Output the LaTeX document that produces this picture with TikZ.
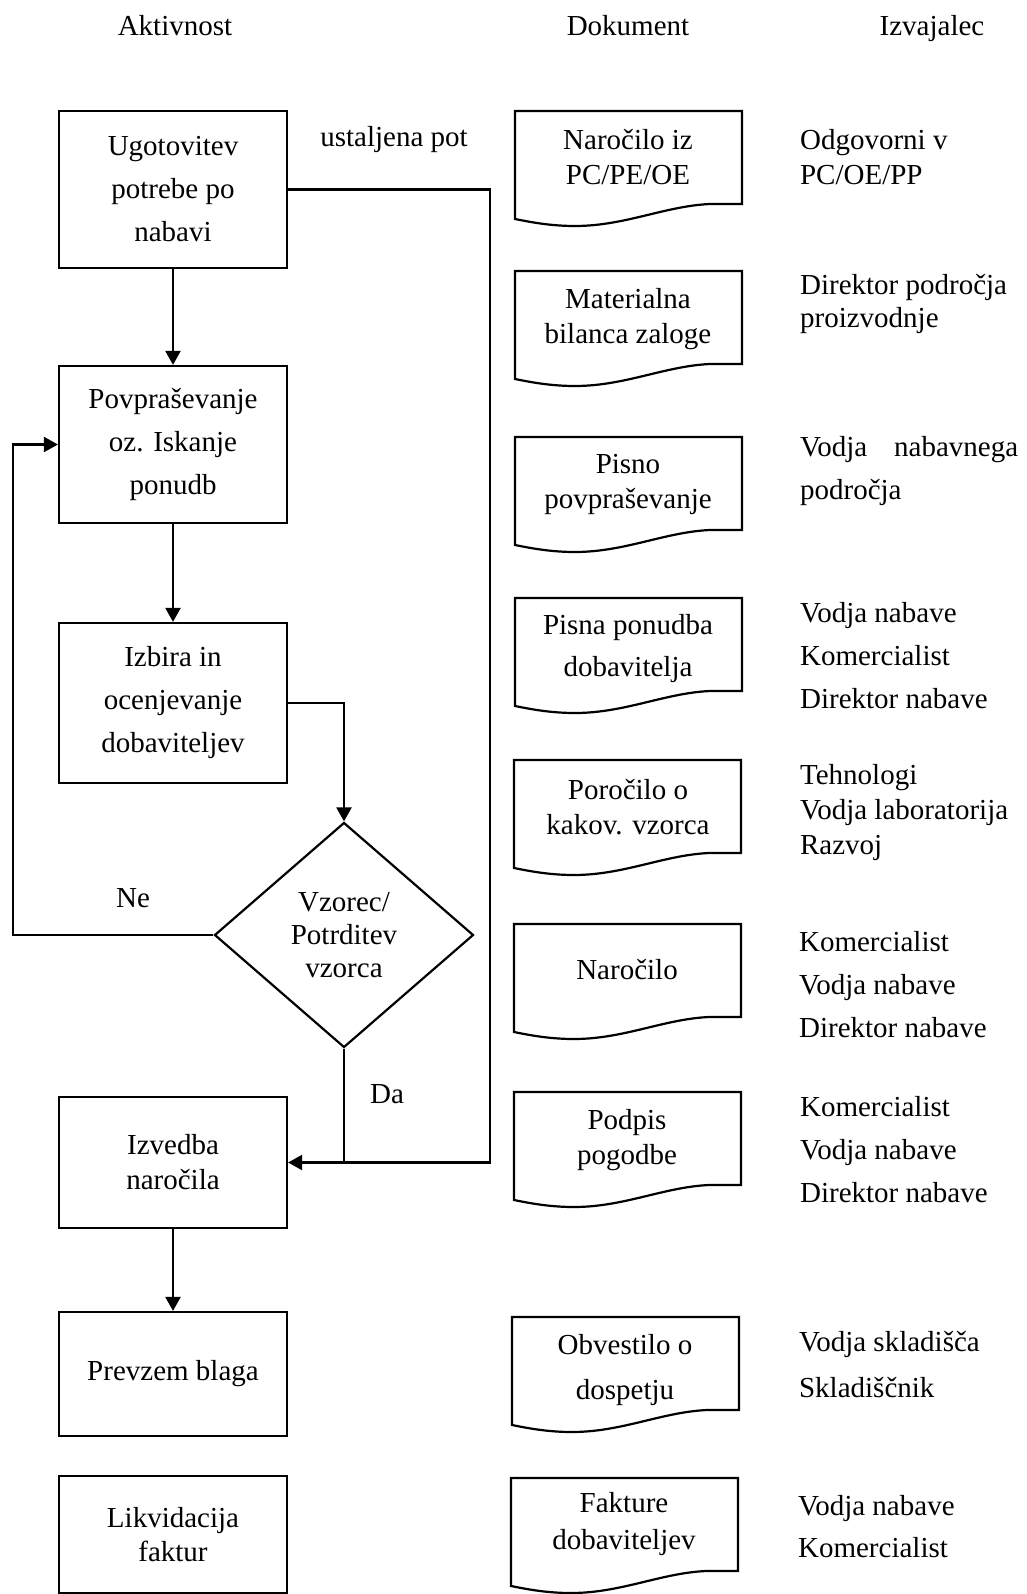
\documentclass[tikz,border=0pt]{standalone}
\usepackage{fontspec}
\setmainfont{Liberation Serif}
\usetikzlibrary{shapes.geometric,arrows.meta}

\newcommand{\dokument}[2]{%
  \draw[shift={(#1,#2)}] (0,0) -- (227,0) -- (227,93) -- (195,93)
    .. controls (150,95) and (110,115) .. (60,115)
    .. controls (35,115) and (15,111) .. (0,108) -- cycle;}

\begin{document}
\begin{tikzpicture}[x=1pt, y=-1pt, line width=2.2pt,
    every node/.style={font=\fontsize{29}{35}\selectfont},
    kop/.style={text height=20pt, text depth=6pt},
    box/.style={draw, rectangle, minimum width=228pt, align=center, inner sep=0pt},
    odlocitev/.style={draw, diamond, minimum width=259pt, minimum height=225pt, inner sep=0pt, align=center},
    dok/.style={align=center},
    oseba/.style={anchor=west, align=left, inner sep=0pt},
    >={Triangle[length=14pt,width=15pt]}]
    \useasboundingbox (0,0) rectangle (1026,1594);

    \node[kop] (hakt) at (175,29) {Aktivnost};
    \node[kop] (hdok) at (628,29) {Dokument};
    \node[kop] (hizv) at (932,29) {Izvajalec};

    \node[box, minimum height=157pt, font=\fontsize{29}{43}\selectfont] (b1) at (173,189.5) {Ugotovitev\\potrebe po\\nabavi};
    \node[box, minimum height=157pt, font=\fontsize{29}{43}\selectfont] (b2) at (173,444.5) {Povpraševanje\\oz. Iskanje\\ponudb};
    \node[box, minimum height=160pt, font=\fontsize{29}{43}\selectfont] (b3) at (173,703) {Izbira in\\ocenjevanje\\dobaviteljev};
    \node[odlocitev, font=\fontsize{29}{33}\selectfont] (dia) at (344,935) {Vzorec/\\Potrditev\\vzorca};
    \node[box, minimum height=131pt] (b4) at (173,1162.5) {Izvedba\\naročila};
    \node[box, minimum height=124pt] (b5) at (173,1374) {Prevzem blaga};
    \node[box, minimum height=117pt, font=\fontsize{29}{34}\selectfont] (b6) at (173,1534.5) {Likvidacija\\faktur};

    \node[kop] (pot) at (394,140) {ustaljena pot};
    \node[kop] (ne) at (133,900) {Ne};
    \node[kop] (da) at (387,1096) {Da};

    \coordinate (lev) at (13,935);
    \coordinate (des) at (490,1162.5);
    \path[->] (b1) edge (b2)
              (b2) edge (b3)
              (b4) edge (b5);
    \draw[->] (b3.east) -| (dia.north);
    \draw[->] (dia.west) -- (lev) |- (b2.west);
    \draw[->] (b1.east) -| (des) -- (b4.east);
    \draw (dia.south) -- (dia.south |- b4.east);

    \dokument{515}{111}
    \node[dok] (d1) at (628,157.5) {Naročilo iz\\PC/PE/OE};
    \dokument{515}{271}
    \node[dok] (d2) at (628,319.5) {Materialna\\bilanca zaloge};
    \dokument{515}{437}
    \node[dok] (d3) at (628,484.5) {Pisno\\povpraševanje};
    \dokument{515}{598}
    \node[dok, font=\fontsize{29}{42}\selectfont] (d4) at (628,649) {Pisna ponudba\\dobavitelja};
    \dokument{514}{760}
    \node[dok] (d5) at (628,807.5) {Poročilo o\\kakov. vzorca};
    \dokument{514}{924}
    \node[dok] (d6) at (627,970) {Naročilo};
    \dokument{514}{1092}
    \node[dok] (d7) at (627,1140.5) {Podpis\\pogodbe};
    \dokument{512}{1317}
    \node[dok, font=\fontsize{29}{45}\selectfont] (d8) at (625,1370.5) {Obvestilo o\\dospetju};
    \dokument{511}{1478}
    \node[dok, font=\fontsize{29}{37}\selectfont] (d9) at (624,1524.5) {Fakture\\dobaviteljev};

    \node[oseba] (r1) at (799,157.5) {Odgovorni v\\PC/OE/PP};
    \node[oseba, font=\fontsize{29}{33}\selectfont] (r2) at (799,303.5) {Direktor področja\\proizvodnje};
    \node[oseba, font=\fontsize{29}{43}\selectfont] (r3) at (799,471.5) {\makebox[218pt][s]{Vodja nabavnega}\\področja};
    \node[oseba, font=\fontsize{29}{43}\selectfont] (r4) at (799,655.5) {Vodja nabave\\Komercialist\\Direktor nabave};
    \node[oseba] (r5) at (799,813) {Tehnologi\\Vodja laboratorija\\Razvoj};
    \node[oseba, font=\fontsize{29}{43}\selectfont] (r6) at (798,985) {Komercialist\\Vodja nabave\\Direktor nabave};
    \node[oseba, font=\fontsize{29}{43}\selectfont] (r7) at (799,1149.5) {Komercialist\\Vodja nabave\\Direktor nabave};
    \node[oseba, font=\fontsize{29}{46}\selectfont] (r8) at (798,1365) {Vodja skladišča\\Skladiščnik};
    \node[oseba, font=\fontsize{29}{42}\selectfont] (r9) at (797,1527) {Vodja nabave\\Komercialist};
\end{tikzpicture}
\end{document}
